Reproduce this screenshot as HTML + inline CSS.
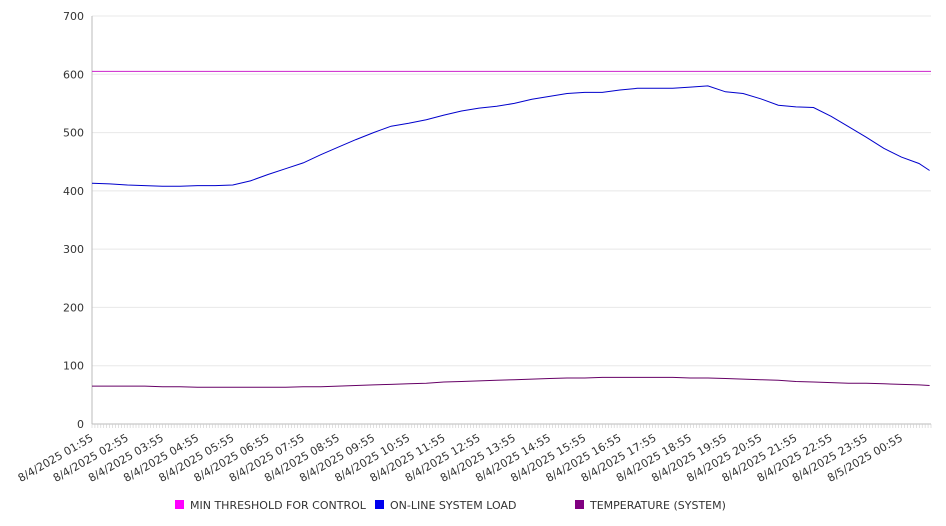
<!DOCTYPE html>
<html><head><meta charset="utf-8"><style>
html,body{margin:0;padding:0;background:#fff;}
svg{display:block;font-family:"DejaVu Sans","Liberation Sans",sans-serif;}
</style></head><body>
<svg id="chart" width="946" height="526">
<g id="grid"></g>
<g id="yaxis"></g>
<g id="xaxis"></g>
<g id="series"></g>
<g font-size="11" fill="#333">
 <g><rect x="175" y="500" width="9" height="9" fill="#ff00ff"/><text x="190" y="509">MIN THRESHOLD FOR CONTROL</text></g>
 <g><rect x="375" y="500" width="9" height="9" fill="#0000ee"/><text x="390" y="509">ON-LINE SYSTEM LOAD</text></g>
 <g><rect x="575" y="500" width="9" height="9" fill="#800080"/><text x="590" y="509">TEMPERATURE (SYSTEM)</text></g>
</g>
</svg>
<script>
const hours = [0,0.5,1,1.5,2,2.5,3,3.5,4,4.5,5,5.5,6,6.5,7,7.5,8,8.5,9,9.5,10,10.5,11,11.5,12,12.5,13,13.5,14,14.5,15,15.5,16,16.5,17,17.5,18,18.5,19,19.5,20,20.5,21,21.5,22,22.5,23,23.5,23.8];
const loadValues = [413,412,410,409,408,408,409,409,410,417,428,438,448,462,475,488,500,511,516,522,530,537,542,545,550,557,562,567,569,569,573,576,576,576,578,580,570,567,558,547,544,543,528,510,492,473,458,447,435];
const tempValues = [65,65,65,65,64,64,63,63,63,63,63,63,64,64,65,66,67,68,69,70,72,73,74,75,76,77,78,79,79,80,80,80,80,80,79,79,78,77,76,75,73,72,71,70,70,69,68,67,66];
const thresholdValue = 605;
const yTicks = [0,100,200,300,400,500,600,700];
const xLabels = ["8/4/2025 01:55","8/4/2025 02:55","8/4/2025 03:55","8/4/2025 04:55","8/4/2025 05:55","8/4/2025 06:55","8/4/2025 07:55","8/4/2025 08:55","8/4/2025 09:55","8/4/2025 10:55","8/4/2025 11:55","8/4/2025 12:55","8/4/2025 13:55","8/4/2025 14:55","8/4/2025 15:55","8/4/2025 16:55","8/4/2025 17:55","8/4/2025 18:55","8/4/2025 19:55","8/4/2025 20:55","8/4/2025 21:55","8/4/2025 22:55","8/4/2025 23:55","8/5/2025 00:55"];

const NS="http://www.w3.org/2000/svg";
const L=92,R=931,T=16,B=424,HMAX=23.84;
const xs=h=>L+(R-L)*h/HMAX;
const ys=v=>B-(B-T)*v/700;
function mk(tag,attrs,parent){const e=document.createElementNS(NS,tag);for(const k in attrs)e.setAttribute(k,attrs[k]);parent.appendChild(e);return e;}
const grid=document.getElementById('grid'),ya=document.getElementById('yaxis'),xa=document.getElementById('xaxis'),ser=document.getElementById('series');
yTicks.forEach(v=>{
  const g=mk('line',{x1:L,x2:R,y1:ys(v),y2:ys(v),stroke:v===0?'#bbb':'#e8e8e8','stroke-width':1},grid);
  
  
  const t=mk('text',{x:L-8,y:ys(v)+4,'text-anchor':'end','font-size':11,fill:'#333'},ya);
  
  
  t.textContent=v;
});
const ax=mk('line',{x1:L,x2:L,y1:T,y2:B,stroke:'#bbb'},ya);


for(let i=0;i<=286;i++){const x=L+(R-L)*i/286;mk('line',{x1:x,x2:x,y1:B,y2:B+4,stroke:'#ccc','stroke-width':0.6},xa);}
xLabels.forEach((s,i)=>{
  const x=xs(i)+2,y=440;
  const t=mk('text',{x:x,y:y,'text-anchor':'end','font-size':11,fill:'#333',transform:`rotate(-30 ${x} ${y})`},xa);
  
  
  t.textContent=s;
});
const th=mk('line',{x1:L,x2:R,y1:ys(thresholdValue),y2:ys(thresholdValue),stroke:'#cc22cc','stroke-width':1},ser);


function path(vals,color,name){
  const d=vals.map((v,i)=>(i?'L':'M')+xs(hours[i]).toFixed(1)+','+ys(v).toFixed(1)).join('');
  const p=mk('path',{d:d,fill:'none',stroke:color,'stroke-width':1},ser);
  
  
}
path(loadValues,'#0000cc','load-line');
path(tempValues,'#660066','temperature-line');
</script>
</body></html>
